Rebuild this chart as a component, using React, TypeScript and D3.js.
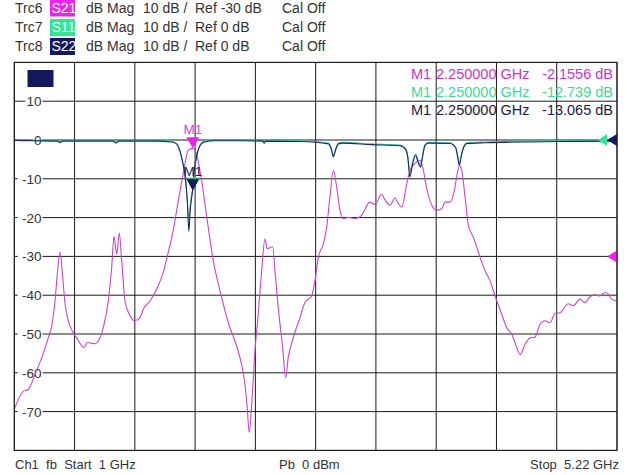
import React from "react";
import * as d3 from "d3";

const W = 627, H = 475;
const F0 = 1, F1 = 5.22;
const DB_MIN = -80, DB_MAX = 20;

const traceNames = ["Trc6", "Trc7", "Trc8"];
const params = ["S21", "S11", "S22"];
const formats = ["dB Mag", "dB Mag", "dB Mag"];
const scales = ["10 dB /", "10 dB /", "10 dB /"];
const refs = ["Ref -30 dB", "Ref 0 dB", "Ref 0 dB"];
const refLevels = [-30, 0, 0];
const cals = ["Cal Off", "Cal Off", "Cal Off"];

const yTickLabels = [10, 0, -10, -20, -30, -40, -50, -60, -70];

const markerFreq = 2.25;
const markerFreqLabel = "2.250000 GHz";
const markerValues = [-2.1556, -12.739, -13.065];
const markerValueLabels = ["-2.1556 dB", "-12.739 dB", "-13.065 dB"];

// S21 (GHz, dB)
const s21F = [1.003, 1.063, 1.098, 1.122, 1.145, 1.192, 1.238, 1.262, 1.285, 1.301, 1.32, 1.339, 1.355, 1.378, 1.413, 1.437, 1.488, 1.511, 1.565, 1.588, 1.623, 1.658, 1.682, 1.698, 1.717, 1.735, 1.752, 1.775, 1.805, 1.845, 1.88, 1.903, 1.95, 1.997, 2.043, 2.078, 2.113, 2.137, 2.183, 2.218, 2.248, 2.277, 2.29, 2.312, 2.335, 2.358, 2.393, 2.452, 2.51, 2.545, 2.58, 2.615, 2.631, 2.645, 2.662, 2.685, 2.708, 2.732, 2.755, 2.771, 2.809, 2.825, 2.848, 2.879, 2.9, 2.918, 2.953, 3.0, 3.035, 3.082, 3.105, 3.129, 3.164, 3.187, 3.21, 3.234, 3.257, 3.28, 3.304, 3.339, 3.385, 3.432, 3.49, 3.525, 3.572, 3.596, 3.631, 3.666, 3.689, 3.713, 3.748, 3.771, 3.806, 3.841, 3.864, 3.888, 3.923, 3.958, 3.993, 4.016, 4.051, 4.074, 4.098, 4.116, 4.133, 4.156, 4.179, 4.214, 4.261, 4.296, 4.331, 4.366, 4.413, 4.448, 4.483, 4.518, 4.541, 4.576, 4.611, 4.646, 4.681, 4.716, 4.751, 4.786, 4.821, 4.879, 4.914, 4.961, 4.996, 5.031, 5.066, 5.101, 5.136, 5.159, 5.182, 5.22];
const s21Db = [-69.1, -64.8, -64.3, -62.6, -60.4, -56.1, -51.0, -47.9, -41.5, -34.5, -28.9, -35.4, -42.2, -46.6, -49.7, -51.0, -53.5, -52.2, -52.5, -51.8, -48.4, -41.5, -32.8, -24.9, -29.4, -24.0, -31.1, -41.5, -44.9, -46.6, -45.8, -43.6, -41.5, -38.4, -34.1, -28.9, -23.3, -18.1, -8.6, -2.6, -2.16, -3.6, -6.0, -10.5, -16.5, -22.5, -31.0, -40.6, -48.4, -51.8, -56.1, -63.0, -69.1, -75.4, -68.2, -54.4, -44.9, -33.7, -25.5, -28.0, -27.5, -33.7, -43.2, -53.5, -61.3, -56.1, -51.0, -45.8, -41.9, -40.2, -36.3, -30.2, -26.8, -22.5, -14.7, -7.8, -12.1, -18.1, -20.3, -19.9, -20.3, -19.4, -16.0, -16.6, -14.0, -15.5, -16.8, -14.9, -16.4, -17.3, -11.2, -7.8, -6.0, -5.2, -7.8, -12.5, -16.8, -18.1, -17.7, -16.0, -16.0, -14.2, -9.5, -6.5, -7.8, -14.7, -22.0, -25.0, -30.2, -33.7, -36.3, -40.2, -44.9, -48.4, -50.0, -53.5, -55.3, -52.7, -51.0, -50.8, -47.5, -46.6, -47.1, -44.7, -44.5, -42.2, -42.7, -41.0, -41.9, -40.4, -39.9, -40.2, -39.3, -39.7, -41.0, -41.5];

// S22 (GHz, dB)
const s22F = [1.0, 1.15, 1.3, 1.32, 1.34, 1.5, 1.69, 1.712, 1.73, 2.0, 2.1, 2.137, 2.16, 2.183, 2.2, 2.212, 2.222, 2.232, 2.248, 2.26, 2.277, 2.3, 2.33, 2.4, 2.6, 2.74, 2.75, 2.76, 3.0, 3.2, 3.22, 3.234, 3.25, 3.27, 3.3, 3.5, 3.7, 3.74, 3.755, 3.77, 3.79, 3.81, 3.826, 3.845, 3.86, 3.875, 3.9, 4.05, 4.09, 4.105, 4.116, 4.128, 4.145, 4.17, 4.3, 4.8, 5.22];
const s22Db = [-0.1, -0.2, -0.3, -0.7, -0.3, -0.3, -0.3, -0.8, -0.3, -0.3, -0.5, -1.0, -2.8, -6.5, -10.5, -16.0, -23.5, -18.0, -13.065, -8.0, -4.0, -1.5, -0.5, -0.2, -0.2, -0.3, -0.8, -0.3, -0.4, -1.0, -2.5, -4.3, -2.5, -1.0, -0.8, -1.2, -1.5, -2.5, -4.5, -9.5, -6.0, -4.0, -5.6, -7.0, -4.0, -1.5, -0.8, -0.9, -2.0, -4.5, -6.5, -4.5, -2.0, -0.9, -0.7, -0.4, -0.3];

// S11 (GHz, dB)
const s11F = [1.0, 1.15, 1.3, 1.32, 1.34, 1.5, 1.69, 1.712, 1.73, 2.0, 2.1, 2.13, 2.155, 2.18, 2.198, 2.21, 2.222, 2.234, 2.248, 2.262, 2.28, 2.3, 2.33, 2.4, 2.6, 2.74, 2.75, 2.76, 3.0, 3.2, 3.22, 3.234, 3.25, 3.27, 3.3, 3.5, 3.7, 3.74, 3.755, 3.77, 3.79, 3.81, 3.826, 3.845, 3.86, 3.875, 3.9, 4.05, 4.09, 4.105, 4.116, 4.128, 4.145, 4.17, 4.3, 4.8, 5.22];
const s11Db = [0.0, -0.1, -0.1, -0.4, -0.1, -0.1, -0.1, -0.5, -0.1, -0.1, -0.3, -0.8, -2.4, -6.0, -10.0, -15.0, -20.5, -16.0, -12.739, -7.5, -3.6, -1.3, -0.3, -0.1, -0.1, -0.1, -0.5, -0.1, -0.2, -0.8, -2.2, -4.0, -2.3, -0.8, -0.6, -1.0, -1.3, -2.2, -4.0, -8.5, -5.5, -3.6, -5.0, -6.4, -3.6, -1.2, -0.6, -0.7, -1.8, -4.2, -6.2, -4.2, -1.8, -0.7, -0.5, -0.2, -0.1];

const MAGENTA_TRACE = "#cc44cc";
const MAGENTA = "#ee22ee";
const GREEN_TRACE = "#3fc2a8";
const GREEN = "#33e696";
const NAVY = "#14185e";
const NAVY_TRACE = "#1c2a5c";
const TEXT = "#333";
const FONT = "'Liberation Sans', Arial, sans-serif";

export default function App() {
  const x = d3.scaleLinear().domain([F0, F1]).range([14.3, 617]);
  const y = d3.scaleLinear().domain([DB_MIN, DB_MAX]).range([450.4, 62.4]);
  const line = d3
    .line<[number, number]>()
    .x((d) => x(d[0]))
    .y((d) => y(d[1]))
    .curve(d3.curveMonotoneX);

  const zip = (a: number[], b: number[]) => a.map((v, i) => [v, b[i]] as [number, number]);
  const xGrid = d3.range(11).map((i) => F0 + (i * (F1 - F0)) / 10);
  const yGrid = d3.range(DB_MIN, DB_MAX + 1, 10);

  const headerColors = [MAGENTA, GREEN, NAVY];
  const legendColors = ["#cc33cc", "#40d898", "#1a1a40"];

  const rowBase = [12.5, 32, 51];
  const legBase = [79, 97, 115];

  const tri = (cx: number, tipY: number, w: number, h: number) =>
    `M${cx - w / 2},${tipY - h} L${cx + w / 2},${tipY - h} L${cx},${tipY} Z`;
  const triLeft = (tipX: number, cy: number, w: number, h: number) =>
    `M${tipX},${cy} L${tipX + w},${cy - h / 2} L${tipX + w},${cy + h / 2} Z`;

  const mx = x(markerFreq);

  return (
    <svg width={W} height={H} style={{ position: "absolute", left: 0, top: 0, background: "#fff" }} fontFamily={FONT}>
      <rect x={0} y={0} width={W} height={H} fill="#fff" />
      {/* header */}
      {traceNames.map((t, i) => (
        <g key={t} fontSize={14} fill={TEXT}>
          <text x={15} y={rowBase[i]}>{t}</text>
          <rect x={50} y={rowBase[i] - 13} width={25} height={17} fill={headerColors[i]} />
          <text x={51.5} y={rowBase[i]} fill="#fff">{params[i]}</text>
          <text x={86} y={rowBase[i]}>{formats[i]}</text>
          <text x={143} y={rowBase[i]}>{scales[i]}</text>
          <text x={195} y={rowBase[i]}>{refs[i]}</text>
          <text x={282} y={rowBase[i]}>{cals[i]}</text>
        </g>
      ))}
      {/* grid */}
      {xGrid.map((f, i) => (
        <line key={"vx" + i} x1={x(f)} x2={x(f)} y1={y(DB_MIN)} y2={y(DB_MAX)} stroke="#1a1a1a" strokeWidth={1} />
      ))}
      {yGrid.map((v, i) => (
        <line key={"hy" + i} x1={x(F0)} x2={x(F1)} y1={y(v)} y2={y(v)} stroke="#1a1a1a" strokeWidth={1} />
      ))}
      {/* y labels */}
      {yTickLabels.map((v) => {
        const s = String(v);
        const w = s.length * 7.6;
        return (
          <g key={"yl" + v}>
            <rect x={41.5 - w - 1} y={y(v) - 7} width={w + 2} height={14} fill="#fff" />
            <text x={41.5} y={y(v) + 5} textAnchor="end" fontSize={13.5} fill={TEXT}>{s}</text>
          </g>
        );
      })}
      <rect x={27.5} y={70} width={26} height={17} fill={NAVY} />
      {/* traces */}
      <path d={line(zip(s21F, s21Db)) || ""} fill="none" stroke={MAGENTA_TRACE} strokeWidth={1.1} />
      <path d={line(zip(s11F, s11Db)) || ""} fill="none" stroke={GREEN_TRACE} strokeWidth={1.1} />
      <path d={line(zip(s22F, s22Db)) || ""} fill="none" stroke={NAVY_TRACE} strokeWidth={1.1} />
      {/* markers */}
      <path d={tri(mx, y(markerValues[0]), 13, 11)} fill={MAGENTA} />
      <text x={mx} y={y(markerValues[0]) - 14} textAnchor="middle" fontSize={13.5} fill="#dd44dd">M1</text>
      <path d={tri(mx, y(markerValues[1]), 13, 12)} fill={GREEN} />
      <path d={tri(mx, y(markerValues[2]), 13, 12)} fill={NAVY} />
      <text x={mx} y={y(markerValues[2]) - 15} textAnchor="middle" fontSize={13.5} fill={NAVY}>M1</text>
      {/* ref triangles */}
      <path d={triLeft(x(F1) - 10, y(refLevels[0]), 10, 12)} fill={MAGENTA} />
      <path d={triLeft(x(F1) - 19, y(refLevels[1]), 9, 12)} fill={GREEN} />
      <path d={triLeft(x(F1) - 10, y(refLevels[2]), 10, 12)} fill={NAVY} />
      {/* marker legend */}
      {markerValueLabels.map((lab, i) => (
        <g key={"ml" + i} fontSize={14.5} fill={legendColors[i]}>
          <text x={411} y={legBase[i]}>M1</text>
          <text x={436} y={legBase[i]}>{markerFreqLabel}</text>
          <text x={613} y={legBase[i]} textAnchor="end">{lab}</text>
        </g>
      ))}
      {/* footer */}
      <g fontSize={13} fill={TEXT}>
        <text x={15} y={469} style={{ whiteSpace: "pre" }}>{"Ch1  fb  Start  1 GHz"}</text>
        <text x={279} y={469} style={{ whiteSpace: "pre" }}>{"Pb  0 dBm"}</text>
        <text x={619} y={469} textAnchor="end" style={{ whiteSpace: "pre" }}>{"Stop  5.22 GHz"}</text>
      </g>
      <rect x={x(F0)} y={y(DB_MAX)} width={x(F1) - x(F0)} height={y(DB_MIN) - y(DB_MAX)} fill="none" stroke="#1a1a1a" strokeWidth={1} />
    </svg>
  );
}
